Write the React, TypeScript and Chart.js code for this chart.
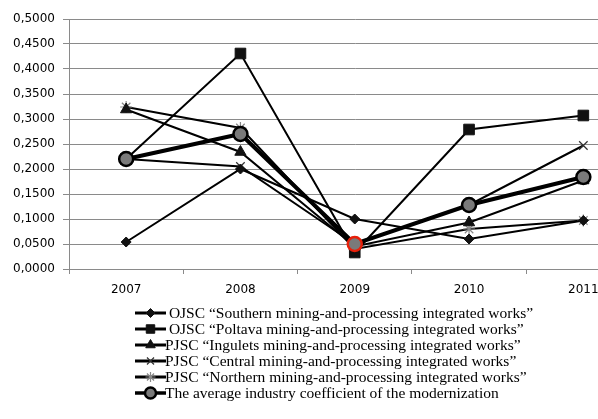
import React, { useEffect, useRef } from "react";
import { Chart, registerables } from "chart.js";
import { drawPoint } from "chart.js/helpers";

Chart.register(...registerables);

const years = ["2007", "2008", "2009", "2010", "2011"];
const southern = [0.054, 0.2, 0.1, 0.06, 0.097];
const poltava = [0.22, 0.431, 0.033, 0.279, 0.307];
const ingulets = [0.319, 0.234, 0.045, 0.093, 0.177];
const central = [0.22, 0.205, 0.05, 0.128, 0.247];
const northern = [0.324, 0.282, 0.04, 0.08, 0.097];
const average = [0.22, 0.27, 0.05, 0.128, 0.184];

const seriesNames = [
  " OJSC \u201cSouthern mining-and-processing integrated works\u201d",
  " OJSC \u201cPoltava mining-and-processing integrated works\u201d",
  "PJSC \u201cIngulets mining-and-processing integrated works\u201d",
  "PJSC \u201cCentral mining-and-processing integrated works\u201d",
  "PJSC \u201cNorthern mining-and-processing integrated works\u201d",
  "The average industry coefficient of the modernization",
];

const yMin = 0;
const yMax = 0.5;
const yStep = 0.05;

const legendPlugin = {
  id: "customLegend",
  afterDraw(chart: any) {
    const ctx = chart.ctx as CanvasRenderingContext2D;
    const area = chart.chartArea;
    const x0 = 135;
    const x1 = 166;
    ctx.save();
    chart.data.datasets.forEach((ds: any, i: number) => {
      const y = area.bottom + 44 + i * 16;
      ctx.strokeStyle = "#000";
      ctx.lineWidth = ds.legendLineWidth || 3;
      ctx.beginPath();
      ctx.moveTo(x0, y);
      ctx.lineTo(x1, y);
      ctx.stroke();
      const bc = Array.isArray(ds.pointBorderColor) ? ds.pointBorderColor[0] : ds.pointBorderColor;
      ctx.fillStyle = ds.pointBackgroundColor;
      ctx.strokeStyle = bc;
      ctx.lineWidth = ds.pointBorderWidth;
      drawPoint(ctx, {
        pointStyle: ds.pointStyle,
        radius: ds.legendRadius,
        rotation: 0,
        borderWidth: ds.pointBorderWidth,
      } as any, (x0 + x1) / 2, y);
      ctx.fillStyle = "#000";
      ctx.font = "15.5px 'Liberation Serif'";
      ctx.textBaseline = "middle";
      ctx.textAlign = "left";
      ctx.fillText(ds.label, x1 - 1, y + 1);
    });
    ctx.restore();
  },
};

export default function App() {
  const ref = useRef<HTMLCanvasElement>(null);
  useEffect(() => {
    if (!ref.current) return;
    const mk = (
      label: string,
      data: number[],
      pointStyle: string,
      radius: number,
      legendRadius: number,
      extra: any = {}
    ) => ({
      label,
      data,
      pointStyle,
      pointRadius: radius,
      legendRadius,
      borderColor: "#000",
      borderWidth: 2,
      pointBackgroundColor: "#111",
      pointBorderColor: "#111",
      pointBorderWidth: 1,
      tension: 0,
      ...extra,
    });
    const chart = new Chart(ref.current, {
      type: "line",
      data: {
        labels: years,
        datasets: [
          mk(seriesNames[0], southern, "rectRot", 5, 4.5),
          mk(seriesNames[1], poltava, "rect", 7.5, 6),
          mk(seriesNames[2], ingulets, "triangle", 6.5, 5.5),
          mk(seriesNames[3], central, "crossRot", 6, 5, {
            pointBorderColor: "#333",
            pointBorderWidth: 1.2,
          }),
          mk(seriesNames[4], northern, "star", 6, 5, {
            pointBorderColor: "#888",
            pointBorderWidth: 1.2,
          }),
          mk(seriesNames[5], average, "circle", 7, 5.5, {
            borderWidth: 4,
            legendLineWidth: 3.5,
            pointBackgroundColor: "#7a7a7a",
            pointBorderColor: ["#000", "#000", "#e8200a", "#000", "#000"],
            pointBorderWidth: 2.5,
            order: -1,
          }),
        ] as any,
      },
      options: {
        animation: false,
        responsive: false,
        events: [],
        layout: { padding: { top: 19, bottom: 120, left: 0, right: 9 } },
        plugins: { legend: { display: false }, tooltip: { enabled: false } },
        scales: {
          x: {
            offset: true,
            grid: {
              display: true,
              offset: true,
              drawOnChartArea: false,
              drawTicks: true,
              tickLength: 5,
              color: "#8a8a8a",
            },
            border: { color: "#8a8a8a", width: 1 },
            ticks: {
              color: "#000",
              padding: 9,
              font: { family: "'DejaVu Sans'", size: 12 },
            },
            afterFit: (s: any) => {
              s.height = 30;
            },
          },
          y: {
            min: yMin,
            max: yMax,
            grid: { color: "#8a8a8a", tickLength: 6, lineWidth: 1 },
            border: { color: "#8a8a8a", width: 1 },
            ticks: {
              stepSize: yStep,
              color: "#000",
              padding: 8,
              font: { family: "'DejaVu Sans'", size: 12 },
              callback: (v: any) => Number(v).toFixed(4).replace(".", ","),
            },
            afterFit: (s: any) => {
              s.width = 69;
            },
          },
        },
      },
      plugins: [legendPlugin],
    });
    return () => chart.destroy();
  }, []);
  return (
    <div
      style={{
        position: "absolute",
        left: 0,
        top: 0,
        width: 598,
        height: 419,
        overflow: "hidden",
        background: "#fff",
      }}
    >
      <canvas ref={ref} width={650} height={419} style={{ display: "block" }} />
    </div>
  );
}
